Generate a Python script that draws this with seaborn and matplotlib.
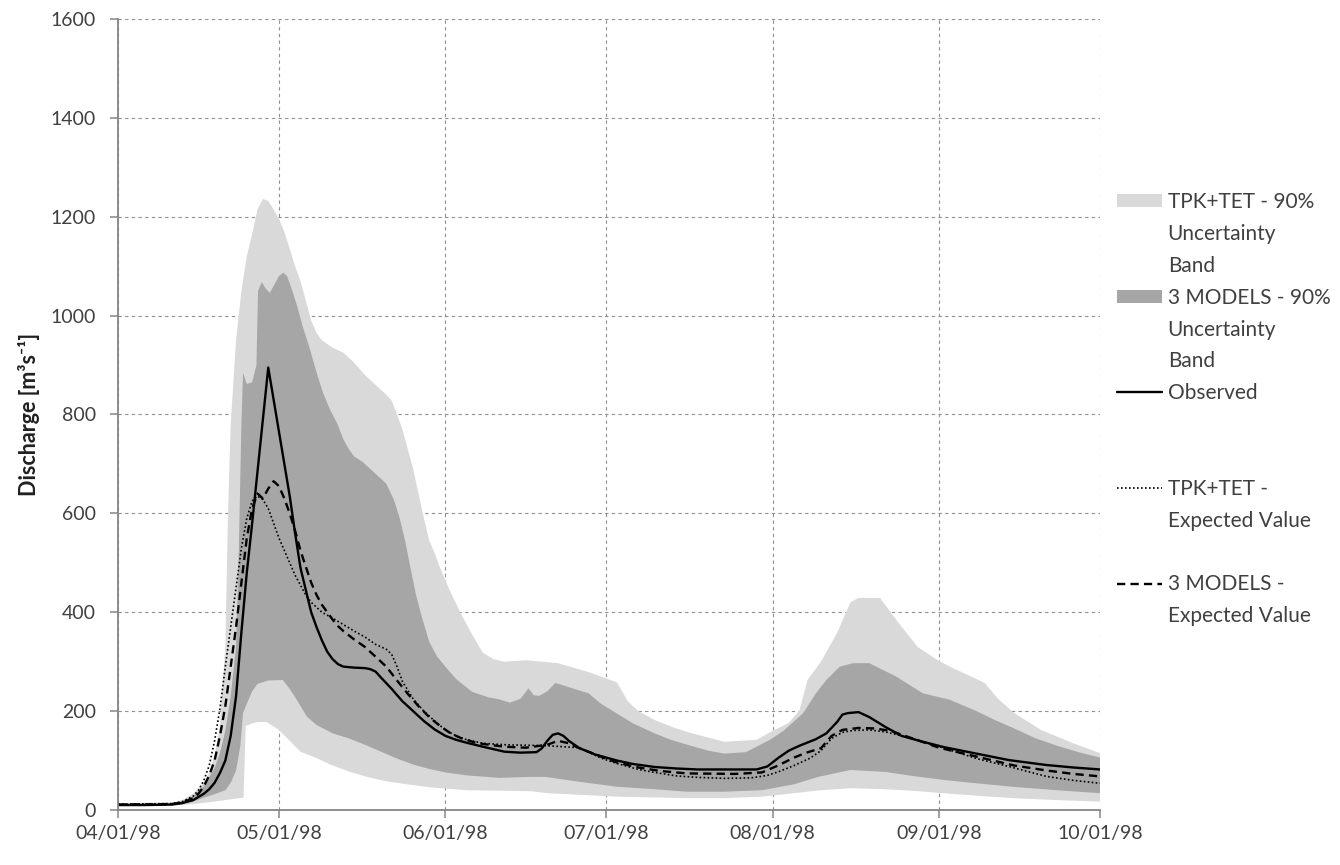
import numpy as np
import pandas as pd
import matplotlib
matplotlib.use("Agg")
import matplotlib.pyplot as plt
import matplotlib.dates as mdates
from matplotlib.lines import Line2D
from matplotlib.patches import Patch
import seaborn as sns

# ---------------------------------------------------------------------------
# Daily discharge, 1 Apr 1998 - 1 Oct 1998 (day offsets from 1 Apr 1998)
# ---------------------------------------------------------------------------
START = pd.Timestamp("1998-04-01")

# Observed discharge [m3/s]
obs_day = [0, 5, 10, 12, 14, 16, 17, 18, 19, 20, 21, 22, 23, 24, 25, 26, 27, 28,
           29, 30, 31, 32, 33, 34, 35, 36, 37, 38, 39, 40, 41, 42, 44, 46, 47, 48,
           49, 51, 53, 55, 57, 59, 61, 63, 65, 68, 70, 72, 75, 78, 79, 80, 81, 82,
           83, 84, 86, 89, 93, 96, 100, 104, 108, 113, 119, 121, 123, 125, 127,
           130, 132, 134, 135, 136, 138, 140, 143, 146, 150, 154, 160, 166, 173,
           178, 183]
obs_q = [10, 10, 11, 14, 20, 33, 42, 55, 75, 100, 150, 230, 360, 480, 580, 685, 790,
         895, 830, 765, 700, 635, 560, 490, 445, 400, 370, 343, 320, 305, 295, 290,
         288, 287, 285, 280, 268, 245, 220, 200, 180, 163, 150, 142, 136, 128, 123,
         118, 116, 117, 125, 140, 152, 155, 150, 140, 125, 112, 100, 93, 87, 84, 82,
         82, 82, 88, 105, 120, 130, 143, 155, 178, 193, 196, 198, 188, 168, 150,
         138, 127, 114, 101, 91, 86, 82]

# TPK+TET expected value
tpk_day = [0, 10, 12, 14, 15, 16, 17, 18, 19, 20, 21, 22, 23, 24, 25, 26, 27, 28,
           29, 30, 31, 32, 33, 34, 35, 36, 37, 38, 40, 42, 44, 46, 48, 50, 51, 52,
           53, 55, 57, 59, 61, 63, 65, 68, 72, 76, 80, 83, 86, 90, 93, 97, 100, 104,
           108, 113, 118, 121, 123, 126, 129, 131, 133, 135, 137, 140, 143, 146,
           150, 154, 160, 166, 173, 178, 183]
tpk_q = [12, 13, 17, 28, 40, 60, 90, 140, 205, 290, 370, 450, 530, 590, 625, 635,
         628, 610, 580, 550, 525, 500, 475, 455, 435, 420, 410, 400, 388, 375, 362,
         350, 335, 325, 315, 290, 260, 225, 200, 180, 162, 150, 142, 135, 132, 131,
         130, 128, 126, 105, 94, 82, 76, 69, 66, 64, 65, 70, 77, 90, 105, 120, 145,
         157, 161, 162, 158, 150, 138, 125, 104, 88, 68, 60, 54]

# 3 MODELS expected value
mod_day = [0, 10, 12, 14, 15, 16, 17, 18, 19, 20, 21, 22, 23, 24, 25, 26, 27, 28,
           29, 30, 31, 32, 33, 34, 35, 36, 37, 38, 39, 40, 41, 42, 44, 46, 48, 50,
           52, 54, 56, 58, 60, 62, 64, 67, 72, 76, 80, 82, 84, 86, 90, 93, 97, 101,
           106, 115, 120, 123, 126, 128, 131, 133, 135, 138, 141, 144, 148, 153, 160,
           167, 173, 178, 183]
mod_q = [11, 12, 15, 24, 33, 48, 70, 100, 150, 210, 290, 370, 460, 550, 610, 640,
         630, 650, 665, 655, 630, 600, 565, 525, 492, 460, 435, 415, 400, 385, 372,
         362, 345, 330, 310, 290, 262, 235, 210, 188, 170, 155, 145, 135, 128, 126,
         132, 140, 135, 125, 108, 96, 86, 79, 74, 73, 76, 90, 106, 115, 125, 150,
         162, 166, 165, 160, 145, 126, 108, 90, 80, 73, 68]

# TPK+TET 90% uncertainty band
tpk_up_day = [0, 10, 12, 14, 16, 17, 18, 19, 20, 20.5, 21, 22, 23, 24, 25, 26, 27,
              28, 29, 30, 31, 32, 33, 34, 35, 36, 37, 38, 40, 42, 44, 46, 48, 50, 51,
              52, 53, 54, 55, 56, 57, 58, 59, 60, 62, 64, 66, 68, 70, 72, 76, 82, 88,
              93, 95, 97, 100, 104, 107, 113, 119, 122, 125, 127, 128.5, 131, 134,
              136.5, 138, 142, 145, 149, 152.6, 155, 158, 161.5, 164, 167, 172, 178,
              183]
tpk_up_q = [14, 15, 20, 33, 55, 75, 110, 170, 330, 600, 780, 950, 1050, 1120, 1165,
            1215, 1236, 1232, 1215, 1195, 1170, 1135, 1100, 1070, 1030, 990, 965, 950,
            935, 925, 905, 880, 860, 840, 828, 800, 770, 730, 690, 640, 590, 545, 520,
            490, 440, 395, 355, 318, 305, 300, 303, 297, 278, 258, 220, 200, 182, 165,
            155, 138, 142, 160, 176, 202, 263, 300, 358, 420, 429, 429, 385, 330, 304,
            290, 275, 257, 225, 196, 162, 135, 115]
tpk_lo_day = [0, 10, 14, 18, 20, 22, 23.4, 23.8, 25, 26, 27.7, 30, 32, 34, 37, 40,
              43, 46.4, 50, 52.5, 58, 65, 77, 80, 93, 106, 113, 120, 126, 131, 136.5,
              143, 148, 153.7, 160, 166.7, 175, 183]
tpk_lo_q = [8, 9, 12, 17, 20, 23, 25, 170, 175, 178, 178, 162, 140, 118, 105, 90,
            78, 67, 58, 54, 46, 40, 38, 34, 27, 24, 24, 27, 34, 40, 44, 42, 39, 34,
            29, 24, 20, 17]

# 3 MODELS 90% uncertainty band
mod_up_day = [0, 10, 12, 14, 16, 18, 19, 20, 21, 22, 22.5, 23, 23.3, 24, 25, 25.8,
              26.1, 26.8, 27.5, 28.3, 29, 30, 30.8, 31.5, 32.5, 33.5, 34.5, 35.8, 37,
              38.2, 39.5, 40.8, 42, 43, 44, 45.5, 47, 48.5, 50, 51.5, 52.5, 53.5,
              54.5, 55.5, 56.5, 58, 59.5, 61, 63, 66, 69, 71, 73, 75, 76.5, 77.5,
              78.5, 80, 81.5, 83, 85, 87.7, 90, 93, 96, 100, 103, 106.4, 110, 113,
              117, 121.5, 124, 127.7, 130, 132, 134.5, 137, 140, 145, 150, 155, 160,
              163, 167, 171, 175, 179, 183]
mod_up_q = [13, 14, 18, 28, 48, 85, 115, 160, 230, 330, 520, 780, 884, 862, 865, 900,
            1050, 1068, 1055, 1046, 1060, 1080, 1087, 1080, 1050, 1015, 975, 931, 885,
            844, 810, 783, 750, 730, 715, 705, 690, 675, 660, 625, 590, 545, 490, 437,
            395, 340, 310, 290, 265, 239, 228, 224, 217, 225, 246, 232, 231, 240, 257,
            252, 245, 236, 215, 195, 175, 155, 142, 131, 120, 114, 117, 142, 160, 196,
            235, 263, 290, 297, 297, 270, 236, 223, 200, 184, 165, 145, 130, 117, 106]
mod_lo_day = [0, 10, 12, 14, 16, 18, 20, 21, 22, 22.8, 23.3, 24, 25, 26, 28, 30.7,
              32, 33.3, 35.2, 37, 40, 43, 46, 49, 52, 55, 58, 61, 65, 71, 77, 79.6,
              86, 93, 100, 106, 113, 120, 126, 130.5, 136.5, 143, 148, 153.7, 160,
              166.7, 175, 183]
mod_lo_q = [9, 10, 12, 17, 25, 32, 40, 55, 80, 130, 196, 215, 240, 255, 262, 263,
            245, 223, 189, 172, 155, 145, 132, 118, 104, 92, 83, 76, 70, 65, 67, 67,
            57, 47, 42, 37, 37, 40, 52, 67, 81, 77, 69, 61, 54, 47, 40, 34]

y_ticks = [0, 200, 400, 600, 800, 1000, 1200, 1400, 1600]


def to_dates(days):
    return START + pd.to_timedelta(np.asarray(days, dtype=float), unit="D")


LIGHT = "#d9d9d9"
DARK = "#a6a6a6"
TEXT = "#404040"
AXIS = "#868686"

sns.set_theme(style="white")
plt.rcParams["font.family"] = ["Lato", "DejaVu Sans"]

fig = plt.figure(figsize=(13.4, 8.65), dpi=100)
ax = fig.add_axes([118 / 1340, 55 / 865, 982 / 1340, 791 / 865])


def band(ax, up_day, up_q, lo_day, lo_q, color):
    xs = np.concatenate([to_dates(up_day).values, to_dates(lo_day).values[::-1]])
    ys = np.concatenate([np.asarray(up_q, float), np.asarray(lo_q, float)[::-1]])
    ax.fill(xs, ys, color=color, lw=0, zorder=1)


band(ax, tpk_up_day, tpk_up_q, tpk_lo_day, tpk_lo_q, LIGHT)
band(ax, mod_up_day, mod_up_q, mod_lo_day, mod_lo_q, DARK)

sns.lineplot(x=to_dates(tpk_day), y=tpk_q, ax=ax, color="black", lw=1.2,
             linestyle=(0, (1, 1.4)), errorbar=None, zorder=3)
sns.lineplot(x=to_dates(mod_day), y=mod_q, ax=ax, color="black", lw=1.7,
             linestyle=(0, (3.5, 2.2)), errorbar=None, zorder=4)
sns.lineplot(x=to_dates(obs_day), y=obs_q, ax=ax, color="black", lw=1.7,
             errorbar=None, zorder=5)

ax.set_xlim(START, pd.Timestamp("1998-10-01"))
ax.set_ylim(0, 1600)
ax.set_yticks(y_ticks)
ax.xaxis.set_major_locator(mdates.MonthLocator())
ax.xaxis.set_major_formatter(mdates.DateFormatter("%m/%d/%y"))

ax.grid(True, color="#8f8f8f", linestyle=(0, (3, 3)), lw=0.8, zorder=0)
ax.set_axisbelow(True)
for side in ("top", "right"):
    ax.spines[side].set_visible(False)
for side in ("left", "bottom"):
    ax.spines[side].set_color(AXIS)
    ax.spines[side].set_linewidth(1.3)
    ax.spines[side].set_zorder(6)

ax.tick_params(axis="both", which="major", bottom=True, left=True, direction="out",
               length=6, width=1.1, color=AXIS, labelsize=14, labelcolor=TEXT)
ax.tick_params(axis="y", pad=10)
ax.tick_params(axis="x", pad=5)

ax.set_xlabel("")
ax.set_ylabel("Discharge [m³s⁻¹]", fontsize=15.5, fontweight="bold", color="#202020")
ax.yaxis.set_label_coords((40 - 118) / 982, 0.5)

# Legend: one row per text line so each symbol sits beside the first line of its label
blank = Line2D([], [], color="none")
rows = [
    (Patch(facecolor=LIGHT, edgecolor="none"), "TPK+TET - 90%"),
    (blank, "Uncertainty"),
    (blank, "Band"),
    (Patch(facecolor=DARK, edgecolor="none"), "3 MODELS - 90%"),
    (blank, "Uncertainty"),
    (blank, "Band"),
    (Line2D([], [], color="black", lw=1.7), "Observed"),
    (blank, " "),
    (blank, " "),
    (Line2D([], [], color="black", lw=1.2, linestyle=(0, (1, 1.4))), "TPK+TET -"),
    (blank, "Expected Value"),
    (blank, " "),
    (Line2D([], [], color="black", lw=1.7, linestyle=(0, (3.5, 2.2))), "3 MODELS -"),
    (blank, "Expected Value"),
]
fig.legend([h for h, _ in rows], [t for _, t in rows], loc="upper left",
           bbox_to_anchor=(1117 / 1340, 1 - 192 / 865), frameon=False, fontsize=15,
           handlelength=2.15, handleheight=0.55, handletextpad=0.28, labelspacing=0.57,
           borderpad=0, borderaxespad=0, labelcolor=TEXT)

fig.savefig("out.png", dpi=100)
